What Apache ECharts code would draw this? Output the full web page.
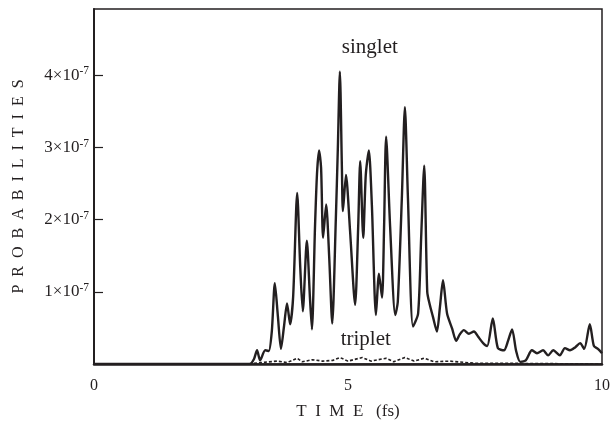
<!DOCTYPE html>
<html>
<head>
<meta charset="utf-8">
<script src="https://cdn.jsdelivr.net/npm/echarts@6/dist/echarts.min.js"></script>
<style>
  html, body { margin: 0; padding: 0; background: #fff; }
  #main { width: 613px; height: 425px; }
</style>
</head>
<body>
<div id="main"></div>
<script>
// time axis (fs) and probabilities (in units of 1e-7)
var singletTime = [0, 3.07, 3.15, 3.21, 3.27, 3.37, 3.44, 3.50, 3.56, 3.62, 3.68, 3.74, 3.80, 3.86, 3.92,
    4.00, 4.06, 4.11, 4.19, 4.25, 4.29, 4.35, 4.39, 4.43, 4.47, 4.51, 4.57, 4.63, 4.69, 4.76, 4.80,
    4.84, 4.88, 4.90, 4.96, 5.04, 5.14, 5.20, 5.24, 5.30, 5.35, 5.41, 5.47, 5.55, 5.61, 5.67, 5.71,
    5.75, 5.83, 5.93, 5.98, 6.06, 6.12, 6.18, 6.28, 6.38, 6.44, 6.50, 6.56, 6.61, 6.67, 6.75, 6.81,
    6.87, 6.95, 7.05, 7.13, 7.20, 7.28, 7.38, 7.48, 7.56, 7.66, 7.74, 7.85, 7.95, 8.07, 8.15, 8.23,
    8.31, 8.39, 8.50, 8.62, 8.72, 8.84, 8.94, 9.04, 9.17, 9.27, 9.37, 9.47, 9.57, 9.65, 9.76, 9.84,
    9.92, 10.00];
var singletProb = [0, 0, 0.07, 0.19, 0.05, 0.19, 0.18, 0.45, 1.12, 0.66, 0.21, 0.52, 0.84, 0.55, 0.93,
    2.37, 1.34, 0.73, 1.71, 0.93, 0.48, 1.89, 2.64, 2.96, 2.72, 1.75, 2.21, 1.48, 0.56, 2.0, 2.99,
    4.05, 2.71, 2.12, 2.62, 1.85, 0.82, 1.89, 2.81, 1.75, 2.62, 2.96, 2.20, 0.68, 1.25, 0.92, 1.89,
    3.15, 1.89, 0.68, 0.86, 2.30, 3.56, 2.30, 0.52, 0.70, 1.75, 2.75, 1.0, 0.82, 0.66, 0.45, 0.79,
    1.16, 0.70, 0.49, 0.32, 0.41, 0.47, 0.42, 0.45, 0.38, 0.29, 0.25, 0.63, 0.22, 0.19, 0.32, 0.48,
    0.18, 0.03, 0.05, 0.19, 0.15, 0.19, 0.12, 0.19, 0.12, 0.22, 0.19, 0.23, 0.29, 0.21, 0.55, 0.25,
    0.21, 0.15];

var tripletTime = [0, 3.0, 3.3, 3.6, 3.8, 4.0, 4.1, 4.3, 4.5, 4.7, 4.84, 5.0, 5.28, 5.45, 5.6, 5.75,
    5.9, 6.12, 6.3, 6.5, 6.7, 7.0, 7.5, 8.0, 10.0];
var tripletProb = [0, 0, 0.02, 0.04, 0.02, 0.08, 0.03, 0.06, 0.04, 0.05, 0.09, 0.04, 0.09, 0.04, 0.06, 0.08,
    0.03, 0.09, 0.04, 0.08, 0.03, 0.04, 0.01, 0.01, 0];

var xTicks = [0, 5, 10];
var yTicks = [1, 2, 3, 4];

var ink = '#231f20';
var serif = '"Liberation Serif", "DejaVu Serif", serif';

function pairs(t, v) {
    var out = [];
    for (var i = 0; i < t.length; i++) out.push([t[i], v[i]]);
    return out;
}

var myChart = echarts.init(document.getElementById('main'));

var option = {
    backgroundColor: '#fff',
    animation: false,
    grid: {
        left: 94, right: 11, top: 9, bottom: 57,
        show: true, borderColor: ink, borderWidth: 1.5
    },
    xAxis: {
        type: 'value',
        min: 0, max: 10, interval: 5,
        name: 'T\u2002I\u2002M\u2002E\u2002 (fs)',
        nameLocation: 'middle',
        nameGap: 39,
        nameTextStyle: { fontFamily: serif, fontSize: 17, color: ink },
        axisLine: { show: true, lineStyle: { color: ink, width: 2.5 } },
        axisTick: { show: false },
        splitLine: { show: false },
        axisLabel: {
            margin: 14,
            fontFamily: serif, fontSize: 16, color: ink,
            formatter: function (v) { return xTicks.indexOf(v) >= 0 ? String(v) : ''; }
        }
    },
    yAxis: {
        type: 'value',
        min: 0, max: 4.92,
        name: 'P\u2002R\u2002O\u2002B\u2002A\u2002B\u2002I\u2002L\u2002I\u2002T\u2002I\u2002E\u2002S',
        nameLocation: 'middle',
        nameGap: 67,
        nameTextStyle: { fontFamily: serif, fontSize: 16, color: ink },
        axisLine: { show: true, lineStyle: { color: ink, width: 2 } },
        axisTick: {
            show: true, inside: true, length: 9,
            customValues: yTicks,
            lineStyle: { color: ink, width: 1.2 }
        },
        splitLine: { show: false },
        axisLabel: {
            margin: 5,
            customValues: yTicks,
            formatter: function (v) {
                return '{b|' + v + '×10}{e|-7}';
            },
            rich: {
                b: { fontFamily: serif, fontSize: 17, color: ink, lineHeight: 20 },
                e: { fontFamily: serif, fontSize: 11.5, color: ink, lineHeight: 13, verticalAlign: 'top' }
            }
        }
    },
    series: [
        {
            name: 'singlet',
            type: 'line',
            data: pairs(singletTime, singletProb),
            showSymbol: false,
            smooth: 0.25,
            lineStyle: { color: ink, width: 2.4 },
            z: 3,
            markPoint: {
                symbol: 'circle', symbolSize: 1,
                itemStyle: { color: 'transparent' },
                label: {
                    show: true, position: 'inside',
                    fontFamily: serif, fontSize: 21, color: ink,
                    formatter: '{b}'
                },
                data: [{ name: 'singlet', coord: [5.43, 4.38] }]
            }
        },
        {
            name: 'triplet',
            type: 'line',
            data: pairs(tripletTime, tripletProb),
            showSymbol: false,
            lineStyle: { color: ink, width: 1.6, type: [3, 2] },
            z: 2,
            markPoint: {
                symbol: 'circle', symbolSize: 1,
                itemStyle: { color: 'transparent' },
                label: {
                    show: true, position: 'inside',
                    fontFamily: serif, fontSize: 21, color: ink,
                    formatter: '{b}'
                },
                data: [{ name: 'triplet', coord: [5.35, 0.34] }]
            }
        }
    ]
};

myChart.setOption(option);
</script>
</body>
</html>
